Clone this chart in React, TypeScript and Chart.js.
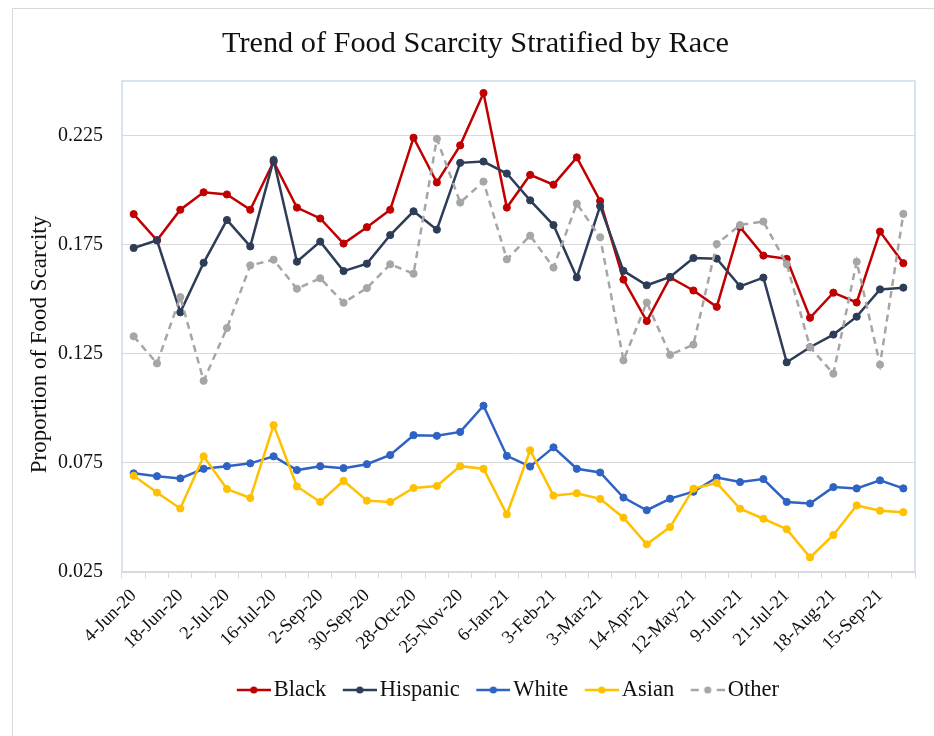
import { useEffect, useRef } from 'react';
import { Chart, registerables } from 'chart.js';

Chart.register(...registerables);

const categories = [
  '4-Jun-20', '11-Jun-20', '18-Jun-20', '25-Jun-20', '2-Jul-20', '9-Jul-20', '16-Jul-20',
  '19-Aug-20', '2-Sep-20', '16-Sep-20', '30-Sep-20', '14-Oct-20', '28-Oct-20', '11-Nov-20',
  '25-Nov-20', '9-Dec-20', '6-Jan-21', '20-Jan-21', '3-Feb-21', '17-Feb-21', '3-Mar-21',
  '17-Mar-21', '14-Apr-21', '28-Apr-21', '12-May-21', '26-May-21', '9-Jun-21', '23-Jun-21',
  '21-Jul-21', '4-Aug-21', '18-Aug-21', '1-Sep-21', '15-Sep-21', '29-Sep-21',
];

const yTicks = [0.025, 0.075, 0.125, 0.175, 0.225];
const yMin = 0.025;
const yMax = 0.25;

const chartTitle = 'Trend of Food Scarcity Stratified by Race';
const yTitle = 'Proportion of Food Scarcity';

const seriesNames = ['Black', 'Hispanic', 'White', 'Asian', 'Other'];

const black = [0.189, 0.177, 0.191, 0.199, 0.198, 0.191, 0.213, 0.192, 0.187, 0.1755, 0.183, 0.191, 0.224, 0.2035, 0.2205, 0.2445, 0.192, 0.207, 0.2025, 0.215, 0.195, 0.159, 0.14, 0.16, 0.154, 0.1465, 0.183, 0.17, 0.1685, 0.1415, 0.153, 0.1485, 0.181, 0.1665];
const hispanic = [0.1735, 0.177, 0.144, 0.1667, 0.1863, 0.1742, 0.2138, 0.1672, 0.1764, 0.1629, 0.1663, 0.1794, 0.1903, 0.1819, 0.2125, 0.2131, 0.2076, 0.1953, 0.184, 0.16, 0.1927, 0.163, 0.1564, 0.1602, 0.1689, 0.1686, 0.1559, 0.1599, 0.1211, 0.128, 0.1338, 0.142, 0.1545, 0.1553];
const white = [0.0702, 0.0689, 0.0679, 0.0723, 0.0735, 0.0748, 0.078, 0.0717, 0.0735, 0.0726, 0.0744, 0.0786, 0.0877, 0.0874, 0.0892, 0.1012, 0.0782, 0.0733, 0.0821, 0.0723, 0.0706, 0.0591, 0.0533, 0.0586, 0.0618, 0.0683, 0.0662, 0.0676, 0.0571, 0.0564, 0.0639, 0.0633, 0.067, 0.0633];
const asian = [0.0691, 0.0614, 0.0541, 0.078, 0.063, 0.0589, 0.0923, 0.0642, 0.0571, 0.0668, 0.0577, 0.0571, 0.0635, 0.0644, 0.0735, 0.0723, 0.0514, 0.0808, 0.06, 0.0611, 0.0585, 0.0499, 0.0377, 0.0456, 0.0632, 0.0658, 0.054, 0.0494, 0.0446, 0.0317, 0.042, 0.0555, 0.0531, 0.0524];
const other = [0.133, 0.1206, 0.151, 0.1126, 0.1368, 0.1655, 0.1681, 0.1548, 0.1596, 0.1484, 0.1551, 0.166, 0.1617, 0.2235, 0.1943, 0.2039, 0.1683, 0.1791, 0.1645, 0.1938, 0.1784, 0.122, 0.1485, 0.1245, 0.1292, 0.1753, 0.184, 0.1856, 0.1661, 0.128, 0.1159, 0.1672, 0.12, 0.1891];

const seriesValues = [black, hispanic, white, asian, other];
const seriesColors = ['#C00000', '#2E3D57', '#2F63C3', '#FFC000', '#A6A6A6'];
const seriesDashed = [false, false, false, false, true];

const FONT = '"Liberation Serif", "Times New Roman", serif';
const TEXT = '#111111';

function makeLegendIcon(color: string, dashed: boolean) {
  // 40px wide canvas; visible symbol occupies x 6..40 (34px)
  const c = document.createElement('canvas');
  c.width = 40;
  c.height = 10;
  const ctx = c.getContext('2d')!;
  ctx.strokeStyle = color;
  ctx.lineWidth = 2.5;
  ctx.beginPath();
  if (dashed) {
    ctx.moveTo(6, 5); ctx.lineTo(14, 5);
    ctx.moveTo(32, 5); ctx.lineTo(40, 5);
  } else {
    ctx.moveTo(6, 5); ctx.lineTo(40, 5);
  }
  ctx.stroke();
  ctx.fillStyle = color;
  ctx.beginPath();
  ctx.arc(23, 5, 3.6, 0, Math.PI * 2);
  ctx.fill();
  return c;
}

const framePlugin = {
  id: 'frame',
  afterLayout(chart: any) {
    // nudge the legend block slightly left, as in the original figure
    const lg = chart.legend;
    if (lg) {
      lg.left -= 9.5;
      lg.right -= 9.5;
    }
  },
  beforeDraw(chart: any) {
    const ctx = chart.ctx;
    ctx.save();
    ctx.strokeStyle = '#d9d9d9';
    ctx.lineWidth = 1;
    ctx.strokeRect(12.5, 8.5, 2000, 2000);
    ctx.restore();
  },
  beforeDatasetsDraw(chart: any) {
    const { ctx, chartArea: a } = chart;
    ctx.save();
    ctx.strokeStyle = '#cdd9ef';
    ctx.lineWidth = 1.5;
    ctx.beginPath();
    ctx.moveTo(a.left, a.bottom);
    ctx.lineTo(a.left, a.top);
    ctx.lineTo(a.right, a.top);
    ctx.lineTo(a.right, a.bottom);
    ctx.stroke();
    ctx.restore();
  },
  afterDraw(chart: any) {
    const { ctx, chartArea: a } = chart;
    ctx.save();
    ctx.translate(40, (a.top + a.bottom) / 2 + 18);
    ctx.rotate(-Math.PI / 2);
    ctx.textAlign = 'center';
    ctx.textBaseline = 'middle';
    ctx.fillStyle = TEXT;
    ctx.font = `23px ${FONT}`;
    ctx.fillText(yTitle, 0, 0);
    ctx.restore();
  },
};

export default function App() {
  const ref = useRef<HTMLCanvasElement | null>(null);

  useEffect(() => {
    if (!ref.current) return;
    const icons = seriesColors.map((c, i) => makeLegendIcon(c, seriesDashed[i]));
    const chart = new Chart(ref.current, {
      type: 'line',
      data: {
        labels: categories,
        datasets: seriesNames.map((name, i) => ({
          label: name,
          data: seriesValues[i],
          borderColor: seriesColors[i],
          backgroundColor: seriesColors[i],
          pointBackgroundColor: seriesColors[i],
          pointBorderColor: seriesColors[i],
          borderWidth: 2.5,
          pointRadius: 3.6,
          pointBorderWidth: 1,
          tension: 0,
          fill: false,
          borderDash: seriesDashed[i] ? [7, 5] : [],
          order: seriesNames.length - i,
        })),
      },
      options: {
        responsive: false,
        animation: false,
        layout: { padding: { left: 36, right: 19, top: 0, bottom: 24.75 } },
        plugins: {
          title: {
            display: true,
            text: chartTitle,
            color: TEXT,
            font: { family: FONT, size: 30.3, weight: 'normal', lineHeight: 1.2 },
            padding: { top: 26, bottom: 18.64 },
          },
          legend: {
            position: 'bottom',
            fullSize: false,
            labels: {
              usePointStyle: true,
              pointStyleWidth: 23.5,
              padding: 18.75,
              color: TEXT,
              font: { family: FONT, size: 22.5 },
              generateLabels: (ch: any) =>
                ch.data.datasets.map((ds: any, i: number) => ({
                  text: ds.label,
                  pointStyle: icons[i],
                  fillStyle: ds.borderColor,
                  strokeStyle: ds.borderColor,
                  lineWidth: 0,
                  hidden: false,
                  datasetIndex: i,
                  fontColor: TEXT,
                })),
            },
          },
          tooltip: { enabled: false },
        },
        scales: {
          x: {
            type: 'category',
            offset: true,
            afterFit: (s: any) => { s.height = 88; },
            grid: {
              offset: true,
              drawOnChartArea: false,
              drawTicks: true,
              tickLength: 6,
              color: '#d9d9d9',
            },
            border: { display: true, color: '#d9d9d9', width: 1.5 },
            ticks: {
              autoSkip: false,
              maxRotation: 45,
              minRotation: 45,
              padding: 7,
              color: TEXT,
              font: { family: FONT, size: 18.5 },
              callback: (_v: any, idx: number) => (idx % 2 === 0 ? categories[idx] : ''),
            },
          },
          y: {
            min: yMin,
            max: yMax,
            afterBuildTicks: (s: any) => { s.ticks = yTicks.map((v) => ({ value: v })); },
            afterFit: (s: any) => { s.width = 86; },
            grid: { color: '#d9d9d9', drawTicks: false, lineWidth: 1 },
            border: { display: false },
            ticks: {
              padding: 19,
              color: TEXT,
              font: { family: FONT, size: 20 },
              callback: (v: any) => Number(v).toFixed(3),
            },
          },
        },
      },
      plugins: [framePlugin],
    });
    return () => chart.destroy();
  }, []);

  return (
    <div style={{ position: 'fixed', left: 0, top: 0, width: 934, height: 736, background: '#fff' }}>
      <canvas ref={ref} width={934} height={736} style={{ display: 'block', width: 934, height: 736 }} />
    </div>
  );
}
